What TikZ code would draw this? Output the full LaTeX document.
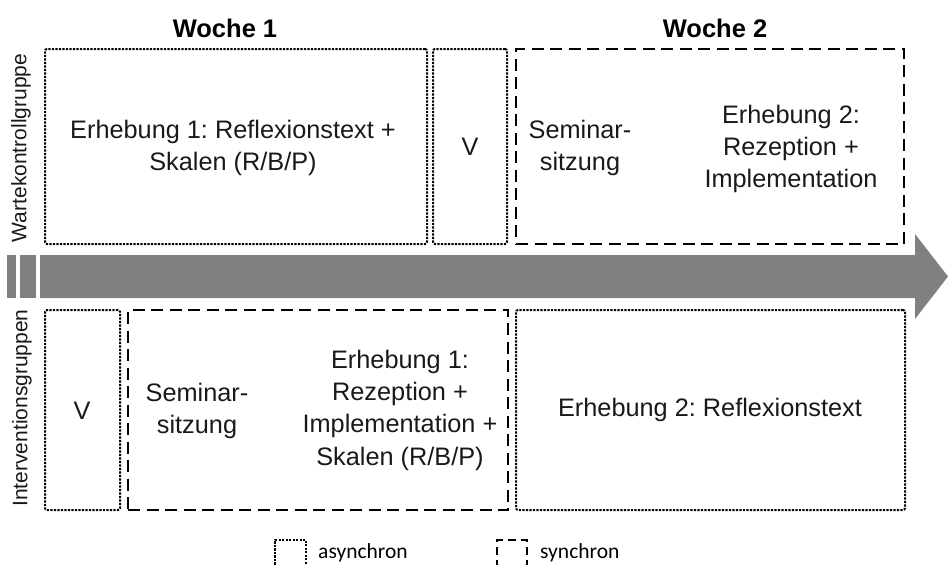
\documentclass[tikz,border=0pt]{standalone}
\usepackage{fontspec}
\setmainfont{Liberation Sans}
\newfontfamily\legendfont{Carlito}
\frenchspacing
\begin{document}
\begin{tikzpicture}[x=1pt,y=-1pt,
  asyncbox/.style={draw=black,line width=2pt,dash pattern=on 2.2pt off 1.3pt,rounded corners=2pt,inner sep=0pt},
  syncbox/.style={draw=black,line width=2pt,dash pattern=on 12pt off 6.5pt,inner sep=0pt},
  boxtext/.style={font=\fontsize{25.3}{32.3}\selectfont,align=center,text=black!90,inner sep=0pt},
  weektitle/.style={font=\fontsize{25.5}{30}\selectfont\bfseries,inner sep=0pt},
  grouptitle/.style={font=\fontsize{21}{25}\selectfont,rotate=90,inner sep=0pt,text=black!90},
  legendtext/.style={font=\legendfont\fontsize{21.5}{25}\selectfont,anchor=west,inner sep=0pt},
  timeline/.style={fill=black!50,draw=none}]
\useasboundingbox (0,0) rectangle (948,565);

% week headings
\node[weektitle] (w1) at (225,28) {Woche 1};
\node[weektitle] (w2) at (715,28) {Woche 2};

% group labels
\node[grouptitle] (gw) at (21,148) {Wartekontrollgruppe};
\node[grouptitle] (gi) at (22,408) {Interventionsgruppen};

% time arrow
\fill[timeline] (7,255) rectangle (16,298);
\fill[timeline] (20,255) rectangle (36,298);
\fill[timeline] (40,255) -- (915,255) -- (915,234) -- (948,276.5) -- (915,319) -- (915,298) -- (40,298) -- cycle;

% waiting control group
\node[asyncbox,minimum width=382pt,minimum height=195pt] (wa) at (236,146.5) {};
\node[asyncbox,minimum width=74pt,minimum height=195pt] (wv) at (470,146.5) {};
\node[syncbox,minimum width=388pt,minimum height=195pt] (ws) at (710,146.5) {};
\node[boxtext] (wat) at (233,148) {Erhebung 1: Reflexionstext +\\Skalen (R/B/P)};
\node[boxtext] (wvt) at (470,147) {V};
\node[boxtext] (wst1) at (580,148) {Seminar-\\sitzung};
\node[boxtext] (wst2) at (791,149) {Erhebung 2:\\Rezeption +\\Implementation};

% intervention groups
\node[asyncbox,minimum width=75pt,minimum height=200pt] (iv) at (82.5,410) {};
\node[syncbox,minimum width=380pt,minimum height=200pt] (is) at (318,410) {};
\node[asyncbox,minimum width=389pt,minimum height=200pt] (ia) at (710.5,410) {};
\node[boxtext] (ivt) at (82,411) {V};
\node[boxtext] (ist1) at (197,411) {Seminar-\\sitzung};
\node[boxtext] (ist2) at (400,410) {Erhebung 1:\\Rezeption +\\Implementation +\\Skalen (R/B/P)};
\node[boxtext] (iat) at (710,410) {Erhebung 2: Reflexionstext};

% legend
\draw[line width=2pt,dash pattern=on 2.2pt off 1.3pt] (275,568) -- (275,540) -- (306,540) -- (306,568);
\node[legendtext] (la) at (318,553) {asynchron};
\draw[line width=2pt,dash pattern=on 8pt off 5pt] (497,568) -- (497,540) -- (527,540) -- (527,568);
\node[legendtext] (ls) at (540,553) {synchron};
\end{tikzpicture}
\end{document}
